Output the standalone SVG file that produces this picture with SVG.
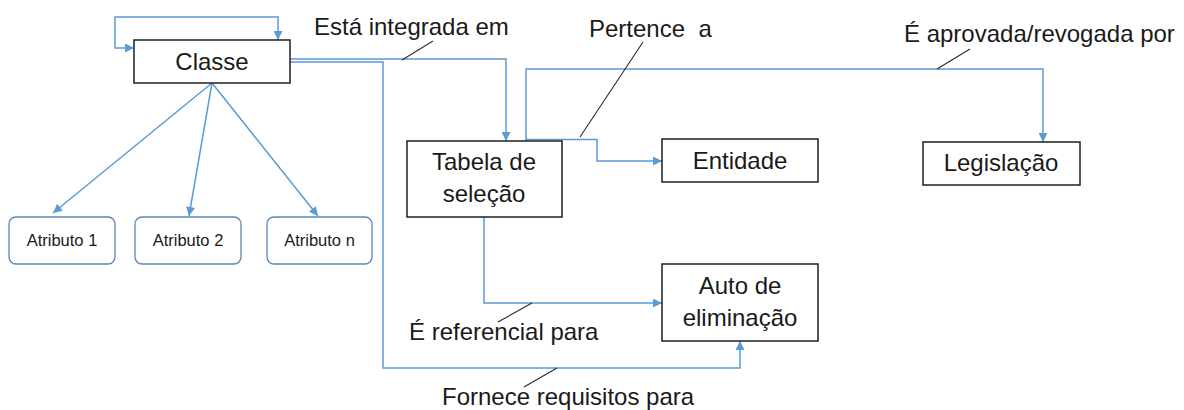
<svg xmlns="http://www.w3.org/2000/svg" width="1184" height="410" viewBox="0 0 1184 410">
  <style>
    .box { fill: #ffffff; stroke: #1f1f1f; stroke-width: 1.5; }
    .rbox { fill: #ffffff; stroke: #5a86b8; stroke-width: 1.3; }
    .conn { fill: none; stroke: #5b9bd5; stroke-width: 1.5; }
    .lead { fill: none; stroke: #2a2a2a; stroke-width: 1.1; }
    .t { font-family: "Liberation Sans", Arial, sans-serif; font-size: 24px; fill: #1a1a1a; }
    .tc { text-anchor: middle; }
    .ts { font-family: "Liberation Sans", Arial, sans-serif; font-size: 16.5px; fill: #1a1a1a; text-anchor: middle; }
  </style>
  <defs>
    <marker id="arr" markerUnits="userSpaceOnUse" markerWidth="10" markerHeight="9" viewBox="0 0 10 10" refX="10" refY="5" orient="auto-start-reverse">
      <path d="M0,0 L10,5 L0,10 z" fill="#5b9bd5"/>
    </marker>
  </defs>
  <rect width="1184" height="410" fill="#ffffff"/>

  <g id="connectors">
    <!-- self loop on Classe -->
    <path class="conn" d="M134,48 L115,48 L115,17 L278,17 L278,40" marker-start="url(#arr)" marker-end="url(#arr)"/>
    <!-- Classe to Atributos -->
    <line class="conn" x1="212" y1="83" x2="53" y2="213" marker-end="url(#arr)"/>
    <line class="conn" x1="212" y1="83" x2="189" y2="216" marker-end="url(#arr)"/>
    <line class="conn" x1="212" y1="83" x2="318" y2="216" marker-end="url(#arr)"/>
    <!-- Classe to Tabela -->
    <path class="conn" d="M290,59 L506,59 L506,141" marker-end="url(#arr)"/>
    <!-- Classe to Auto -->
    <path class="conn" d="M290,62 L383,62 L383,368 L740,368 L740,341" marker-end="url(#arr)"/>
    <!-- Tabela to Entidade -->
    <path class="conn" d="M526,139.5 L597,139.5 L597,161 L662,161" marker-end="url(#arr)"/>
    <!-- Tabela to Legislacao -->
    <path class="conn" d="M526,141 L526,69 L1043,69 L1043,142" marker-end="url(#arr)"/>
    <!-- Tabela to Auto -->
    <path class="conn" d="M484,217 L484,303 L662,303" marker-end="url(#arr)"/>
    <!-- leader lines -->
    <line class="lead" x1="402" y1="60" x2="433" y2="41"/>
    <line class="lead" x1="580" y1="137" x2="643" y2="42"/>
    <line class="lead" x1="937" y1="69" x2="970" y2="49"/>
    <line class="lead" x1="532" y1="303" x2="498" y2="322"/>
    <line class="lead" x1="557" y1="368" x2="524" y2="387"/>
  </g>

  <g id="labels">
    <text class="t" x="314" y="35">Está integrada em</text>
    <text class="t" x="589" y="37" xml:space="preserve">Pertence  a</text>
    <text class="t" x="904" y="42">É aprovada/revogada por</text>
    <text class="t" x="409" y="340">É referencial para</text>
    <text class="t" x="442" y="405">Fornece requisitos para</text>
  </g>

  <g id="classe">
    <rect class="box" x="134" y="40" width="156" height="43"/>
    <text class="t tc" x="212" y="70">Classe</text>
  </g>

  <g id="atributo1">
    <rect class="rbox" x="9" y="217" width="106" height="47" rx="7"/>
    <text class="ts" x="62" y="246">Atributo 1</text>
  </g>
  <g id="atributo2">
    <rect class="rbox" x="135" y="217" width="106" height="47" rx="7"/>
    <text class="ts" x="188" y="246">Atributo 2</text>
  </g>
  <g id="atributon">
    <rect class="rbox" x="267" y="217" width="105" height="47" rx="7"/>
    <text class="ts" x="319.5" y="246">Atributo n</text>
  </g>

  <g id="tabela">
    <rect class="box" x="407" y="141" width="155" height="76"/>
    <text class="t tc" x="484" y="170">Tabela de</text>
    <text class="t tc" x="484" y="202">seleção</text>
  </g>

  <g id="entidade">
    <rect class="box" x="662" y="139" width="156" height="43"/>
    <text class="t tc" x="740" y="169">Entidade</text>
  </g>

  <g id="legislacao">
    <rect class="box" x="923" y="142" width="157" height="43"/>
    <text class="t tc" x="1001" y="171">Legislação</text>
  </g>

  <g id="auto">
    <rect class="box" x="662" y="264" width="156" height="77"/>
    <text class="t tc" x="740" y="294">Auto de</text>
    <text class="t tc" x="740" y="326">eliminação</text>
  </g>
</svg>
